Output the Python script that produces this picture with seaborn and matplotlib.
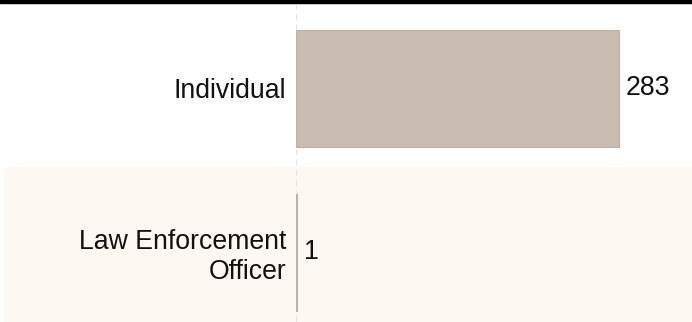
import matplotlib
matplotlib.use("Agg")
import matplotlib.pyplot as plt
import seaborn as sns
import pandas as pd
from matplotlib.patches import Rectangle

categories = ["Individual", "Law Enforcement\nOfficer"]
values = [283, 1]
value_labels = ["283", "1"]

sns.set_style("white")
plt.rcParams['font.family'] = ['Liberation Sans', 'DejaVu Sans']

W, H = 692, 322
fig = plt.figure(figsize=(W / 100, H / 100), dpi=100)
ax = fig.add_axes([296 / W, 0, (W - 296) / W, (H - 5) / H])

df = pd.DataFrame({"category": categories, "value": values})

# cream band behind second row (extends left under the labels)
ax.axhspan(0.48, 1.6, xmin=-(296 - 4) / (W - 296), xmax=1, color="#fdf8f1",
           zorder=0, clip_on=False, lw=0)

sns.barplot(data=df, x="value", y="category", orient="h", color="#c9bcb1",
            saturation=1, width=0.71, ax=ax, zorder=2,
            edgecolor="#bdb0a5", linewidth=0.8)

ax.axvline(0, color="#e4e4e4", lw=1.5, ls=(0, (3, 2)), zorder=1)

ax.set_xlim(0, 347)
ax.set_ylim(1.424, -0.509)

ax.bar_label(ax.containers[0], labels=value_labels, padding=5,
             fontsize=19.2, color="#111111")

ax.set_xlabel("")
ax.set_ylabel("")
ax.set_xticks([])
ax.tick_params(axis="y", length=0, pad=7, labelsize=19.2, labelcolor="#111111")
for s in ax.spines.values():
    s.set_visible(False)
ax.patch.set_alpha(0)

# top black rule
fig.patches.append(Rectangle((0, 1 - 3 / H), 1, 3 / H, transform=fig.transFigure,
                             color="black", zorder=5))

fig.savefig("out.png", dpi=100)
